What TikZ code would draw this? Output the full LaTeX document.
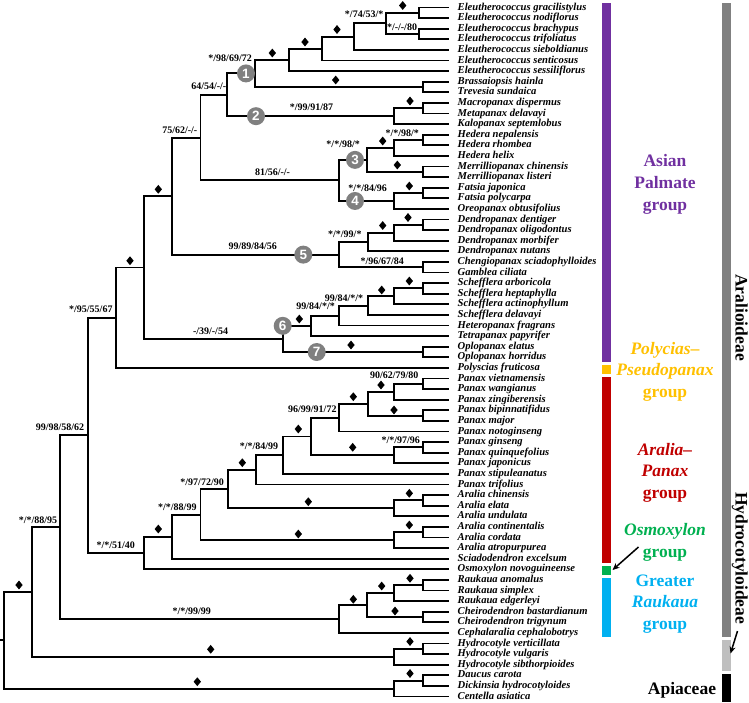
\documentclass[tikz,border=0pt]{standalone}
\usepackage{fontspec}
\setmainfont{Liberation Serif}
\newfontfamily\numfont{Liberation Sans}
\usetikzlibrary{calc,shapes.geometric,arrows.meta}
\definecolor{cpurple}{HTML}{7030A0}
\definecolor{cgold}{HTML}{FFC000}
\definecolor{cred}{HTML}{C00000}
\definecolor{cgreen}{HTML}{00B050}
\definecolor{cblue}{HTML}{00B0F0}
\definecolor{cgray}{HTML}{808080}
\definecolor{clgray}{HTML}{BFBFBF}
\newcommand\mkclade[4]{%
  \coordinate (tmp) at ($(#3)!.5!(#4)$);
  \coordinate (#1) at (#2,0 |- tmp);
  \draw[br] (#1) |- (#3);
  \draw[br] (#1) |- (#4);
}
\begin{document}
\begin{tikzpicture}[x=1pt,y=-1pt,
  br/.style={line width=1.9pt, line join=miter},
  leaf/.style={anchor=west, inner xsep=8.5pt, inner ysep=0pt, text height=7pt, text depth=2pt,
    font=\fontsize{10.6}{11}\selectfont\bfseries\itshape},
  bs/.style={inner sep=0pt, text height=7pt, text depth=2pt, font=\fontsize{10}{11}\selectfont\bfseries},
  dia/.style={diamond, fill=black, inner sep=0pt, minimum width=7.5pt, minimum height=9pt},
  num/.style={circle, fill=cgray, text=white, inner sep=0pt, minimum size=18pt,
    font=\numfont\fontsize{13.5}{13.5}\selectfont\bfseries},
  grp/.style={align=center, inner sep=0pt, font=\fontsize{17.5}{21.7}\selectfont\bfseries},
  rot/.style={rotate=-90, anchor=base, inner sep=0pt, font=\fontsize{17.5}{20}\selectfont\bfseries},
  arr/.style={line width=1.5pt, -{Stealth[length=7pt,width=6pt]}},
  ]
\useasboundingbox (0,0) rectangle (749,702);
% leaves
\foreach \n [count=\i] in {Eleutherococcus gracilistylus, Eleutherococcus nodiflorus, Eleutherococcus brachypus, Eleutherococcus trifoliatus, Eleutherococcus sieboldianus, Eleutherococcus senticosus, Eleutherococcus sessiliflorus, Brassaiopsis hainla, Trevesia sundaica, Macropanax dispermus, Metapanax delavayi, Kalopanax septemlobus, Hedera nepalensis, Hedera rhombea, Hedera helix, Merrilliopanax chinensis, Merrilliopanax listeri, Fatsia japonica, Fatsia polycarpa, Oreopanax obtusifolius, Dendropanax dentiger, Dendropanax oligodontus, Dendropanax morbifer, Dendropanax nutans, Chengiopanax sciadophylloides, Gamblea ciliata, Schefflera arboricola, Schefflera heptaphylla, Schefflera actinophyllum, Schefflera delavayi, Heteropanax fragrans, Tetrapanax papyrifer, Oplopanax elatus, Oplopanax horridus, Polyscias fruticosa, Panax vietnamensis, Panax wangianus, Panax zingiberensis, Panax bipinnatifidus, Panax major, Panax notoginseng, Panax ginseng, Panax quinquefolius, Panax japonicus, Panax stipuleanatus, Panax trifolius, Aralia chinensis, Aralia elata, Aralia undulata, Aralia continentalis, Aralia cordata, Aralia atropurpurea, Sciadodendron excelsum, Osmoxylon novoguineense, Raukaua anomalus, Raukaua simplex, Raukaua edgerleyi, Cheirodendron bastardianum, Cheirodendron trigynum, Cephalaralia cephalobotrys, Hydrocotyle verticillata, Hydrocotyle vulgaris, Hydrocotyle sibthorpioides, Daucus carota, Dickinsia hydrocotyloides, Centella asiatica}
  \node[leaf] (L\i) at (449,{7.5+(\i-1)*10.6}) {\n};
% clades
\mkclade{e1}{419}{L1.west}{L2.west}
\mkclade{e2}{419}{L3.west}{L4.west}
\mkclade{e3}{385.7}{e1}{e2}
\mkclade{e4}{354.3}{e3}{L5.west}
\mkclade{e5}{321.7}{e4}{L6.west}
\mkclade{e6}{289.3}{e5}{L7.west}
\mkclade{bt}{423.3}{L8.west}{L9.west}
\mkclade{n1}{255}{e6}{bt}
\mkclade{mm}{423}{L10.west}{L11.west}
\mkclade{n2}{394.3}{mm}{L12.west}
\mkclade{n64}{227.3}{n1}{n2}
\mkclade{h1}{422.7}{L13.west}{L14.west}
\mkclade{h2}{394.3}{h1}{L15.west}
\mkclade{m1}{423.3}{L16.west}{L17.west}
\mkclade{n3}{367.3}{h2}{m1}
\mkclade{f1}{422.7}{L18.west}{L19.west}
\mkclade{n4}{394.3}{f1}{L20.west}
\mkclade{n81}{339.3}{n3}{n4}
\mkclade{n75}{200.5}{n64}{n81}
\mkclade{d1}{422.7}{L21.west}{L22.west}
\mkclade{d2}{394.3}{d1}{L23.west}
\mkclade{d3}{367.7}{d2}{L24.west}
\mkclade{cg}{423.3}{L25.west}{L26.west}
\mkclade{n5}{339.3}{d3}{cg}
\mkclade{nd}{171.7}{n75}{n5}
\mkclade{s1}{423.3}{L27.west}{L28.west}
\mkclade{s2}{394.3}{s1}{L29.west}
\mkclade{s3}{367.7}{s2}{L30.west}
\mkclade{s4}{339.3}{s3}{L31.west}
\mkclade{s5}{311}{s4}{L32.west}
\mkclade{op}{423}{L33.west}{L34.west}
\mkclade{n6}{282.7}{s5}{op}
\mkclade{nu}{144}{nd}{n6}
\mkclade{np}{116}{nu}{L35.west}
\mkclade{p1}{423}{L36.west}{L37.west}
\mkclade{p2}{394.3}{p1}{L38.west}
\mkclade{p3}{423}{L39.west}{L40.west}
\mkclade{p4}{367.7}{p2}{p3}
\mkclade{p5}{339.3}{p4}{L41.west}
\mkclade{g1}{423}{L42.west}{L43.west}
\mkclade{g2}{394.3}{g1}{L44.west}
\mkclade{p6}{311}{p5}{g2}
\mkclade{p7}{283}{p6}{L45.west}
\mkclade{p8}{255.7}{p7}{L46.west}
\mkclade{a1}{423}{L47.west}{L48.west}
\mkclade{a2}{394.3}{a1}{L49.west}
\mkclade{a3}{423}{L50.west}{L51.west}
\mkclade{a4}{394.3}{a3}{L52.west}
\mkclade{n97}{228}{p8}{a2}
\mkclade{n88}{200.5}{n97}{a4}
\mkclade{nsc}{171.7}{n88}{L53.west}
\mkclade{n51}{144}{nsc}{L54.west}
\mkclade{n99}{88.3}{np}{n51}
\mkclade{r1}{423}{L55.west}{L56.west}
\mkclade{r2}{394.3}{r1}{L57.west}
\mkclade{c1}{423}{L58.west}{L59.west}
\mkclade{r3}{367.3}{r2}{c1}
\mkclade{r4}{339.3}{r3}{L60.west}
\mkclade{n8895}{60}{n99}{r4}
\mkclade{y1}{423}{L61.west}{L62.west}
\mkclade{y2}{394.3}{y1}{L63.west}
\mkclade{nh}{32.3}{n8895}{y2}
\mkclade{ap1}{423}{L64.west}{L65.west}
\mkclade{ap2}{394.3}{ap1}{L66.west}
\mkclade{root}{4.3}{nh}{ap2}
\coordinate (stub) at (0,0 |- root);
\draw[br] (stub) -- (root);
% support labels
\node[bs, anchor=east] (b1) at (383.5,15) {*/74/53/*};
\node[bs] (b2) at (402,27.7) {*/-/-/80};
\node[bs, anchor=east] (b3) at (252,59.3) {*/98/69/72};
\node[bs, anchor=east] (b4) at (226.5,86.7) {64/54/-/-};
\node[bs] (b5) at (311.5,108) {*/99/91/87};
\node[bs, anchor=east] (b6) at (197.5,131) {75/62/-/-};
\node[bs] (b7) at (402.2,134) {*/*/98/*};
\node[bs, anchor=east] (b8) at (360,145) {*/*/98/*};
\node[bs] (b9) at (272.5,173) {81/56/-/-};
\node[bs, anchor=east] (b10) at (387,189) {*/*/84/96};
\node[bs, anchor=east] (b11) at (361.7,235) {*/*/99/*};
\node[bs] (b12) at (252.8,246.7) {99/89/84/56};
\node[bs] (b13) at (382.3,261.7) {*/96/67/84};
\node[bs, anchor=east] (b14) at (363.3,299) {99/84/*/*};
\node[bs, anchor=east] (b15) at (335,307.3) {99/84/*/*};
\node[bs] (b16) at (210.5,331.7) {-/39/-/54};
\node[bs, anchor=east] (b17) at (112.7,310) {*/95/55/67};
\node[bs] (b18) at (394.2,375.7) {90/62/79/80};
\node[bs, anchor=east] (b19) at (336.7,410) {96/99/91/72};
\node[bs] (b20) at (400.8,440.7) {*/*/97/96};
\node[bs, anchor=east] (b21) at (84.3,428.3) {99/98/58/62};
\node[bs] (b22) at (259,447.3) {*/*/84/99};
\node[bs, anchor=east] (b23) at (224,482.7) {*/97/72/90};
\node[bs, anchor=east] (b24) at (196.7,508.3) {*/*/88/99};
\node[bs, anchor=east] (b25) at (57.3,520.7) {*/*/88/95};
\node[bs] (b26) at (115.8,545.7) {*/*/51/40};
\node[bs] (b27) at (191.7,611.7) {*/*/99/99};
% diamonds
\foreach \p [count=\k] in {(402.7,5.5),(337,29.5),(305,42),(272.3,53),(335.7,80),(410,101),(382.7,141),(397.3,165),(409.3,186),(408,217.5),(382.7,225.5),(409.3,281),(381.7,290),(299.3,319),(351,345),(158.3,189.3),(130,260.7),(381,385),(353.3,396.7),(394,410),(298.3,429),(352.7,447.3),(242.3,462.7),(409.3,493.3),(308.3,501.7),(409.3,525),(298.3,534),(158.3,529),(410,578.3),(381.7,586),(353.3,599.3),(395,611),(410,641.5),(410,673.5),(210.7,649.3),(197.3,681.7),(19,585)}
  \node[dia] (dm\k) at \p {};
% numbered circles
\node[num] (c1) at (246,73.42) {1};
\node[num] (c2) at (256,116.15) {2};
\node[num] (c3) at (355,159.875) {3};
\node[num] (c4) at (355,200.95) {4};
\node[num] (c5) at (303.3,254.61) {5};
\node[num] (c6) at (n6 |- s5) {6};
\node[num] (c7) at (316.7,352) {7};
% group bars
\fill[cpurple] (602,3.3) rectangle (611,362);
\fill[cgold] (602,365) rectangle (611,374);
\fill[cred] (602,376.7) rectangle (611,563.3);
\fill[cgreen] (602,566) rectangle (611,575);
\fill[cblue] (602,578.3) rectangle (611,636.7);
\fill[cgray] (722,3.3) rectangle (731,636.5);
\fill[clgray] (722,640) rectangle (731,670.7);
\fill[black] (722,673.5) rectangle (731,702);
% group labels
\node[grp, text=cpurple] (gAsian) at (665,184.5) {Asian\\Palmate\\group};
\node[grp, text=cgold] (gPoly) at (665,371.7) {\textit{Polycias–}\\\textit{Pseudopanax}\\group};
\node[grp, text=cred] (gAral) at (665,472.7) {\textit{Aralia–}\\\textit{Panax}\\group};
\node[grp, text=cgreen] (gOsm) at (665,542.5) {\textit{Osmoxylon}\\group};
\node[grp, text=cblue] (gRauk) at (665,604) {Greater\\\textit{Raukaua}\\group};
\node[grp, anchor=base] (gApi) at (682,694.5) {Apiaceae};
\node[rot] (tAral) at (735.5,317.5) {Aralioideae};
\node[rot] (tHydro) at (735.5,558.3) {Hydrocotyloideae};
% arrows
\coordinate (ao1) at (638.5,547);
\coordinate (ao2) at (612.5,570);
\draw[arr] (ao1) -- (ao2);
\coordinate (ah1) at (737.5,631);
\coordinate (ah2) at (730.5,653.5);
\draw[arr] (ah1) -- (ah2);
\end{tikzpicture}
\end{document}
